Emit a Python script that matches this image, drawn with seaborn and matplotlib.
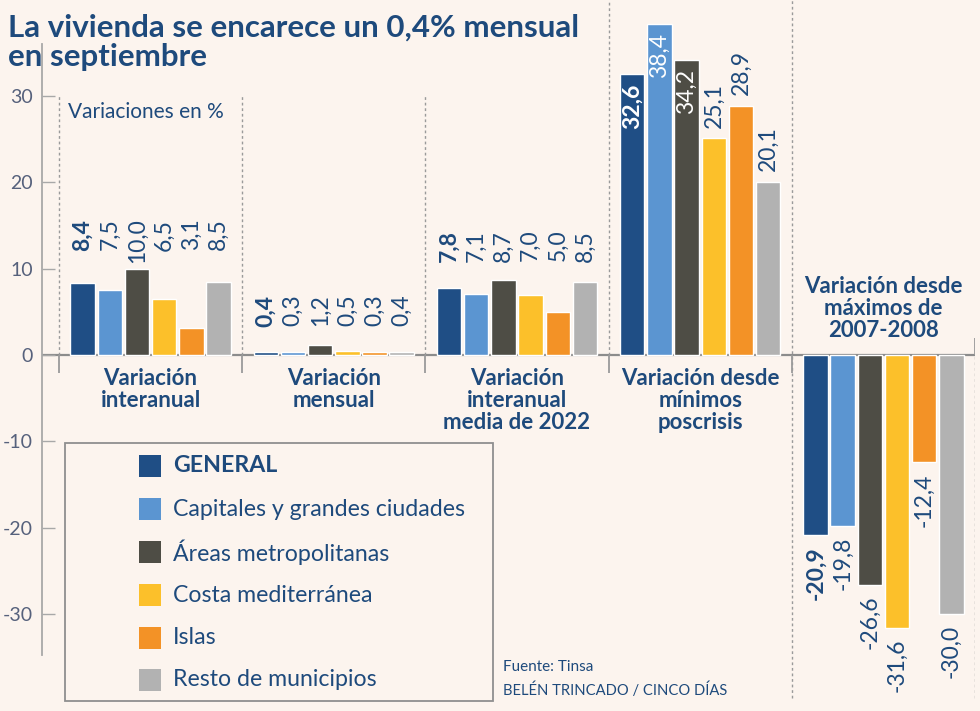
import pandas as pd
import matplotlib.pyplot as plt
import seaborn as sns
from matplotlib.patches import Rectangle

# Data
groups = ["Variación\ninteranual", "Variación\nmensual", "Variación\ninteranual\nmedia de 2022",
          "Variación desde\nmínimos\nposcrisis", "Variación desde\nmáximos de\n2007-2008"]
series = ["GENERAL", "Capitales y grandes ciudades", "Áreas metropolitanas",
          "Costa mediterránea", "Islas", "Resto de municipios"]
general = [8.4, 0.4, 7.8, 32.6, -20.9]
capitales = [7.5, 0.3, 7.1, 38.4, -19.8]
areas = [10.0, 1.2, 8.7, 34.2, -26.6]
costa = [6.5, 0.5, 7.0, 25.1, -31.6]
islas = [3.1, 0.3, 5.0, 28.9, -12.4]
resto = [8.5, 0.4, 8.5, 20.1, -30.0]
yticks = [30, 20, 10, 0, -10, -20, -30]

colors = ["#1f4e85", "#5b95d1", "#4e4d45", "#fcc02a", "#f39226", "#b2b2b2"]
bg = "#fcf4ee"
navy = "#1e4a7c"
grey_line = "#9a9a9a"

values = [general, capitales, areas, costa, islas, resto]
df = pd.DataFrame({
    "grupo": [g for _ in series for g in groups],
    "serie": [s for s in series for _ in groups],
    "valor": [v for vals in values for v in vals],
})

sns.set_theme(style="white")
plt.rcParams["font.family"] = ["Lato", "DejaVu Sans"]
plt.rcParams["axes.unicode_minus"] = False

W, H = 980, 711
fx = lambda x: x / W
fy = lambda y: 1 - y / H

fig = plt.figure(figsize=(9.8, 7.11), dpi=100, facecolor=bg)
ax = fig.add_axes([fx(42), 0, (975 - 42) / W, 1])
ax.set_facecolor("none")

sns.barplot(data=df, x="grupo", y="valor", hue="serie", palette=colors,
            width=0.89, gap=0.1, saturation=1, errorbar=None, legend=False, ax=ax)

px_per_unit = 8.63
ax.set_xlim(-0.5 - 17 / 183.5, 4.5)
ax.set_ylim(-(H - 355) / px_per_unit, 355 / px_per_unit)
ax.set_xticks([])
ax.set_xlabel("")
ax.set_ylabel("")

for s in ["top", "right", "bottom"]:
    ax.spines[s].set_visible(False)
ax.spines["left"].set_color("#a8a8a8")
ax.spines["left"].set_linewidth(1.3)
ax.spines["left"].set_bounds(-34.8, 36)

ax.set_yticks(yticks)
ax.set_yticklabels([str(t) for t in yticks])
ax.tick_params(axis="y", direction="in", length=9.5, width=1, color="#a8a8a8",
               labelsize=14, labelcolor="#56617c", pad=6.5, left=True)

# zero line and group separators
ax.axhline(0, color="#8c8c8c", lw=1.6, zorder=0)
dot = (0, (2, 2))
top = ax.get_ylim()[1]
ax.vlines([-0.5, 0.5, 1.5], 0, 30, color=grey_line, lw=1, linestyles=[dot])
ax.vlines([2.5], 0, top, color=grey_line, lw=1, linestyles=[dot])
ax.vlines([3.5], -39.7, top, color=grey_line, lw=1, linestyles=[dot])
ax.vlines([4.5], -39.7, 0, color=grey_line, lw=1, linestyles=[dot])
ax.vlines([-0.5, 0.5, 1.5, 2.5, 3.5], -2.1, 0, color=grey_line, lw=1.3)
ax.vlines([4.5], 0, 2.0, color=grey_line, lw=1.3)

# group labels
for i, g in enumerate(groups):
    if i < 4:
        ax.text(i, -1.5, g, ha="center", va="top", fontsize=16, fontweight="bold",
                color=navy, linespacing=1.07)
    else:
        ax.text(i, 1.6, g, ha="center", va="bottom", fontsize=16, fontweight="bold",
                color=navy, linespacing=1.07)

# value labels
group_max = [max(v[i] for v in values) for i in range(len(groups))]
fs_val = 16.5
for j, cont in enumerate(ax.containers):
    weight = "bold" if j == 0 else "normal"
    for i, bar in enumerate(cont):
        v = values[j][i]
        x = bar.get_x() + bar.get_width() / 2
        txt = f"{v:.1f}".replace(".", ",")
        if i < 3:
            ax.text(x, group_max[i] + 5.8, txt, rotation=90, ha="center", va="top",
                    fontsize=fs_val, color=navy, fontweight=weight)
        elif i == 3 and v > 30:
            ax.text(x, v - 1.1, txt, rotation=90, ha="center", va="top",
                    fontsize=fs_val, color="white", fontweight=weight)
        elif i == 3:
            ax.text(x, v + 1.2, txt, rotation=90, ha="center", va="bottom",
                    fontsize=fs_val, color=navy, fontweight=weight)
        else:
            ax.text(x, v - 1.3, txt, rotation=90, ha="center", va="top",
                    fontsize=fs_val, color=navy, fontweight=weight)

# title and notes
fig.text(fx(8), fy(37), "La vivienda se encarece un 0,4% mensual", fontsize=22.5,
         fontweight="bold", color=navy, va="baseline", zorder=5)
fig.text(fx(8), fy(66), "en septiembre", fontsize=22.5, fontweight="bold",
         color=navy, va="baseline", zorder=5)
fig.text(fx(68), fy(112), "Variaciones en %", fontsize=15, color=navy, va="center")
fig.text(fx(503), fy(667), "Fuente: Tinsa", fontsize=11, color=navy, va="center")
fig.text(fx(503), fy(690), "BELÉN TRINCADO / CINCO DÍAS", fontsize=10.6, color=navy, va="center")

# legend box
fig.add_artist(Rectangle((fx(65), fy(701)), (493 - 65) / W, (701 - 443) / H,
                         transform=fig.transFigure, fill=False, edgecolor="#8f8f8f", lw=1.3))
rows = [466, 509, 552, 595, 638, 680]
for k, (name, col, yc) in enumerate(zip(series, colors, rows)):
    fig.add_artist(Rectangle((fx(139), fy(yc + 11)), 22 / W, 22 / H,
                             transform=fig.transFigure, facecolor=col, edgecolor="none"))
    fig.text(fx(173), fy(yc), name, fontsize=16.7, color=navy, va="center",
             fontweight="bold" if k == 0 else "normal")

fig.savefig("out.png", dpi=100, facecolor=bg)
